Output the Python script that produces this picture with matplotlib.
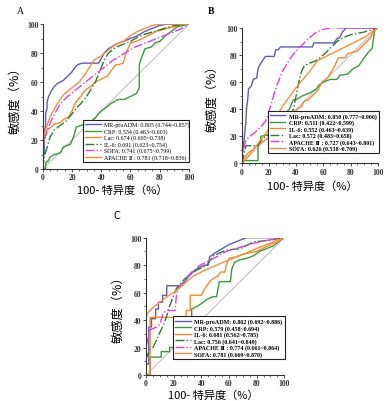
import matplotlib
matplotlib.use("Agg")
import matplotlib.pyplot as plt
from matplotlib.ticker import MultipleLocator

# ---------------- Panel A data ----------------
A_mr_fpr = [0, 0, 1, 1, 2, 2, 3, 3, 4, 6, 8, 10, 12, 14, 16, 18, 20, 22, 24, 27, 30, 38, 40, 42, 45, 50, 55, 60, 65, 70, 75, 80, 85, 100]
A_mr_tpr = [0, 10, 10, 25, 30, 38, 42, 46, 50, 54, 57, 59, 60, 61, 63, 65, 67, 70, 72, 73, 73, 73, 76, 80, 83, 86, 88, 90, 92, 95, 97, 99, 100, 100]

A_crp_fpr = [0, 2, 2, 4, 5, 8, 12, 14, 16, 19, 21, 23, 26, 30, 33, 36, 38, 40, 44, 48, 52, 56, 60, 64, 66, 66, 68, 70, 74, 77, 80, 84, 88, 92, 96, 100]
A_crp_tpr = [0, 0, 4, 6, 8, 10, 11, 15, 16, 17, 22, 29, 30, 31, 33, 35, 38, 40, 43, 46, 48, 48, 50, 52, 56, 72, 78, 83, 84, 87, 88, 92, 95, 98, 99, 100]

A_lac_fpr = [0, 0, 1, 3, 6, 8, 12, 14, 18, 20, 22, 24, 26, 28, 30, 33, 36, 40, 44, 47, 50, 52, 55, 57, 60, 64, 68, 72, 78, 85, 90, 95, 100]
A_lac_tpr = [0, 10, 20, 27, 29, 31, 32, 34, 36, 40, 45, 48, 50, 53, 55, 57, 60, 62, 64, 68, 72, 72, 73, 80, 87, 88, 90, 92, 95, 97, 98, 100, 100]

A_il6_fpr = [0, 1, 3, 5, 8, 12, 16, 20, 23, 26, 30, 33, 36, 38, 40, 42, 45, 50, 55, 60, 65, 70, 80, 90, 100]
A_il6_tpr = [0, 8, 15, 22, 27, 30, 33, 38, 42, 45, 50, 55, 60, 65, 70, 75, 80, 84, 86, 88, 91, 93, 96, 99, 100]

A_sofa_fpr = [0, 0, 1, 4, 7, 12, 17, 22, 28, 33, 38, 43, 48, 53, 58, 63, 68, 73, 78, 83, 88, 93, 97, 100]
A_sofa_tpr = [0, 15, 20, 29, 36, 45, 50, 54, 59, 63, 67, 71, 75, 78, 81, 84, 86, 88, 90, 92, 94, 96, 98, 100]

A_apache_fpr = [0, 0, 1, 5, 10, 14, 20, 25, 30, 35, 40, 45, 50, 55, 60, 65, 70, 75, 80, 100]
A_apache_tpr = [0, 18, 24, 36, 45, 51, 56, 60, 67, 75, 78, 82, 86, 88, 92, 95, 97, 99, 100, 100]

A_labels = ["MR-proADM: 0.805 (0.744~0.857)", "CRP: 0.534 (0.463~0.603)", "Lac: 0.674 (0.605~0.738)",
            "IL-6: 0.691 (0.623~0.754)", "SOFA: 0.741 (0.675~0.799)", "APACHE Ⅱ : 0.781 (0.718~0.836)"]

# ---------------- Panel B data ----------------
B_mr_fpr = [0, 0, 1, 2, 3, 3.5, 4.5, 5, 7, 8.5, 11, 12, 13.5, 16, 17.5, 24, 25, 27, 28.5, 52, 53, 68, 70, 72, 74, 77, 100]
B_mr_tpr = [0, 5, 10, 20, 30, 40, 48, 55, 57, 62, 63, 70, 73, 77, 79, 79, 84, 84, 86, 86, 89, 89, 92, 93, 97, 100, 100]

B_crp_fpr = [0, 2, 12, 12, 14, 14, 20, 22, 25, 28, 31, 35, 38, 40, 45, 50, 55, 57, 60, 65, 70, 72, 78, 82, 86, 90, 93, 96, 97, 98, 100]
B_crp_tpr = [0, 2, 2, 14, 17, 20, 21, 24, 28, 32, 36, 40, 47, 47, 50, 52, 55, 58, 60, 62, 62, 65, 66, 70, 72, 78, 82, 85, 93, 100, 100]

B_il6_fpr = [0, 2, 5, 7, 12, 17, 22, 27, 32, 36, 38, 41, 44, 46, 49, 52, 56, 59, 63, 68, 71, 76, 78, 85, 90, 95, 97, 100]
B_il6_tpr = [0, 4, 8, 9, 14, 17, 20, 25, 30, 34, 37, 40, 42, 46, 47, 50, 54, 60, 63, 71, 78, 78, 81, 83, 88, 93, 98, 100]

B_lac_fpr = [0, 2, 3, 12, 15, 20, 25, 30, 35, 38, 40, 42, 44, 46, 50, 55, 60, 65, 70, 75, 80, 90, 100]
B_lac_tpr = [0, 8, 13, 13, 18, 22, 25, 30, 35, 40, 50, 60, 68, 72, 74, 76, 80, 85, 90, 93, 95, 97, 100]

B_apache_fpr = [0, 0, 1, 3, 6, 10, 15, 18, 20, 22, 24, 26, 28, 30, 33, 36, 40, 45, 50, 55, 60, 65, 100]
B_apache_tpr = [0, 5, 10, 17, 20, 23, 28, 32, 38, 45, 52, 58, 63, 68, 73, 78, 83, 88, 93, 97, 99, 100, 100]

B_sofa_fpr = [0, 3, 10, 19, 30, 40, 50, 56, 70, 80, 90, 100]
B_sofa_tpr = [0, 3, 12, 24, 42, 56, 68, 76, 83, 88, 93, 100]

B_labels = ["MR-proADM: 0.850 (0.777~0.906)", "CRP: 0.511 (0.422~0.599)", "IL-6: 0.552 (0.463~0.639)",
            "Lac: 0.572 (0.483~0.658)", "APACHE Ⅱ : 0.727 (0.643~0.801)", "SOFA: 0.626 (0.538~0.709)"]

# ---------------- Panel C data ----------------
C_mr_fpr = [0, 0, 2, 2, 4, 4, 7, 7, 9, 9, 12, 12, 15, 15, 22, 25, 28, 31, 34, 38, 42, 45, 46, 50, 55, 60, 65, 70, 73, 100]
C_mr_tpr = [0, 8, 8, 35, 35, 41, 41, 48, 48, 53, 53, 58, 58, 65, 65, 65, 68, 72, 75, 78, 80, 80, 86, 89, 92, 95, 97, 99, 100, 100]

C_crp_fpr = [0, 3, 3, 11, 11, 17, 17, 25, 33, 33, 37, 40, 44, 48, 51, 53, 61, 62, 64, 68, 73, 78, 82, 87, 92, 97, 100]
C_crp_tpr = [0, 0, 13, 13, 17, 17, 20, 20, 22, 48, 50, 52, 55, 57, 57, 68, 68, 77, 82, 84, 85, 87, 90, 92, 94, 98, 100]

C_il6_fpr = [0, 3, 3, 22, 29, 29, 32, 32, 40, 42, 44, 46, 48, 52, 54, 57, 58, 60, 65, 70, 80, 90, 95, 100]
C_il6_tpr = [0, 0, 42, 42, 42, 47, 47, 58, 58, 62, 65, 68, 70, 72, 75, 75, 80, 85, 86, 88, 90, 95, 97, 100]

C_lac_fpr = [0, 0, 3, 5, 8, 10, 12.5, 15, 17, 20, 22, 28, 34, 44, 49, 58, 68, 78, 88, 100]
C_lac_tpr = [0, 12, 19, 20, 26, 31, 36, 43, 50, 58, 63, 70, 75, 80, 87, 91, 92, 97, 98, 100]

C_apache_fpr = [0, 0, 1, 3, 8, 10, 12.5, 15, 21, 22, 23, 25, 32, 39, 49, 58, 68, 78, 87, 100]
C_apache_tpr = [0, 20, 25, 33, 35, 37, 45, 47, 47, 58, 63, 65, 74, 80, 85, 90, 93, 96, 98, 100]

C_sofa_fpr = [0, 0, 1, 5, 10, 15, 20, 25, 34, 44, 58, 68, 82, 97, 100]
C_sofa_tpr = [0, 41, 45, 49, 53, 57, 60, 64, 72, 77, 83, 87, 93, 99, 100]

C_labels = ["MR-proADM: 0.802 (0.692~0.886)", "CRP: 0.579 (0.458~0.694)", "IL-6: 0.681 (0.562~0.785)",
            "Lac: 0.756 (0.641~0.849)", "APACHE Ⅱ : 0.774 (0.661~0.864)", "SOFA: 0.781 (0.669~0.870)"]

# ---------------- styles ----------------
BLUE = "#5d5db8"
GREEN = "#3b9b3b"
ORANGE = "#f28a2e"
DKGREEN = "#2f7a35"
MAGENTA = "#e23ee6"
ORANGE2 = "#f39040"
DIAG = "#cdbcc4"

SERIF = ["Liberation Serif", "DejaVu Serif", "Noto Sans CJK SC"]
CJK = ["Noto Sans CJK SC", "DejaVu Sans"]

W, H = 392, 402
fig = plt.figure(figsize=(W / 100, H / 100), dpi=100)
fig.patch.set_facecolor("white")


def make_ax(x0, x1, ytop, ybot):
    return fig.add_axes([x0 / W, 1 - ybot / H, (x1 - x0) / W, (ybot - ytop) / H])


def style(ax):
    ax.set_xlim(0, 100)
    ax.set_ylim(0, 100)
    for s in ["top", "right"]:
        ax.spines[s].set_visible(False)
    for s in ["left", "bottom"]:
        ax.spines[s].set_linewidth(0.8)
        ax.spines[s].set_color("#333333")
    ax.xaxis.set_major_locator(MultipleLocator(20))
    ax.yaxis.set_major_locator(MultipleLocator(20))
    ax.xaxis.set_minor_locator(MultipleLocator(5))
    ax.yaxis.set_minor_locator(MultipleLocator(10))
    ax.tick_params(which="major", length=2.2, width=0.6, pad=1.0, labelsize=5.5, colors="#333333")
    ax.tick_params(which="minor", length=1.4, width=0.5, colors="#333333")
    for lab in ax.get_xticklabels() + ax.get_yticklabels():
        lab.set_family(SERIF)
        lab.set_fontweight("bold")
    ax.plot([0, 100], [0, 100], color=DIAG, lw=0.8, zorder=1)


def legend(ax, bbox, labels, bold):
    leg = ax.legend(labels=labels, handles=ax.lines[1:], loc="lower left", bbox_to_anchor=bbox,
                    mode="expand", prop={"family": SERIF, "size": 4.3, "weight": "bold" if bold else "normal"},
                    frameon=True, fancybox=False, edgecolor="#222222", framealpha=1,
                    handlelength=2.6, handletextpad=0.6, labelspacing=0.12, borderpad=0.35,
                    borderaxespad=0)
    leg.get_frame().set_linewidth(0.8)
    leg.set_zorder(10)


LW = 1.0

# ---- Panel A ----
axA = make_ax(42.7, 189, 25, 170)
style(axA)
axA.plot(A_mr_fpr, A_mr_tpr, color=BLUE, lw=LW)
axA.plot(A_crp_fpr, A_crp_tpr, color=GREEN, lw=LW)
axA.plot(A_lac_fpr, A_lac_tpr, color=ORANGE, lw=LW)
axA.plot(A_il6_fpr, A_il6_tpr, color=DKGREEN, lw=LW, ls="-.")
axA.plot(A_sofa_fpr, A_sofa_tpr, color=MAGENTA, lw=LW, ls="-.")
axA.plot(A_apache_fpr, A_apache_tpr, color=ORANGE2, lw=LW)
legend(axA, (0.275, 0.048, 0.725, 0.27), A_labels, False)

# ---- Panel B ----
axB = make_ax(241.7, 377.7, 29, 164.3)
style(axB)
axB.plot(B_mr_fpr, B_mr_tpr, color=BLUE, lw=LW)
axB.plot(B_crp_fpr, B_crp_tpr, color=GREEN, lw=LW)
axB.plot(B_il6_fpr, B_il6_tpr, color=ORANGE, lw=LW)
axB.plot(B_lac_fpr, B_lac_tpr, color=DKGREEN, lw=LW, ls="-.")
axB.plot(B_apache_fpr, B_apache_tpr, color=MAGENTA, lw=LW, ls="-.")
axB.plot(B_sofa_fpr, B_sofa_tpr, color=ORANGE2, lw=LW)
legend(axB, (0.19, 0.074, 0.82, 0.3), B_labels, True)

# ---- Panel C ----
axC = make_ax(146, 284.3, 238.7, 376)
style(axC)
axC.plot(C_mr_fpr, C_mr_tpr, color=BLUE, lw=LW)
axC.plot(C_crp_fpr, C_crp_tpr, color=GREEN, lw=LW)
axC.plot(C_il6_fpr, C_il6_tpr, color=ORANGE, lw=LW)
axC.plot(C_lac_fpr, C_lac_tpr, color=DKGREEN, lw=LW, ls="-.")
axC.plot(C_apache_fpr, C_apache_tpr, color=MAGENTA, lw=LW, ls="-.")
axC.plot(C_sofa_fpr, C_sofa_tpr, color=ORANGE2, lw=LW)
legend(axC, (0.197, 0.117, 0.81, 0.3), C_labels, True)


def ftext(px, py, s, **kw):
    fig.text(px / W, 1 - py / H, s, **kw)


# panel letters
ftext(20, 11, "A", family=SERIF, fontsize=7, ha="center", va="center")
ftext(211, 11, "B", family=SERIF, fontsize=7, fontweight="bold", ha="center", va="center")
ftext(117, 216, "C", family=["DejaVu Sans"], fontsize=7, ha="center", va="center")

# axis labels
YL = "敏感度（%）"
XL = "100- 特异度（%）"
for (yx, yy, xx, xy) in [(15, 98, 122, 191), (212, 96, 312, 187), (118, 307, 213, 396)]:
    ftext(yx, yy, YL, family=CJK, fontsize=8.8, rotation=90, ha="center", va="center")
    ftext(xx, xy, XL, family=CJK, fontsize=8.0, ha="center", va="center")

fig.savefig("out.png", dpi=100, facecolor="white")
